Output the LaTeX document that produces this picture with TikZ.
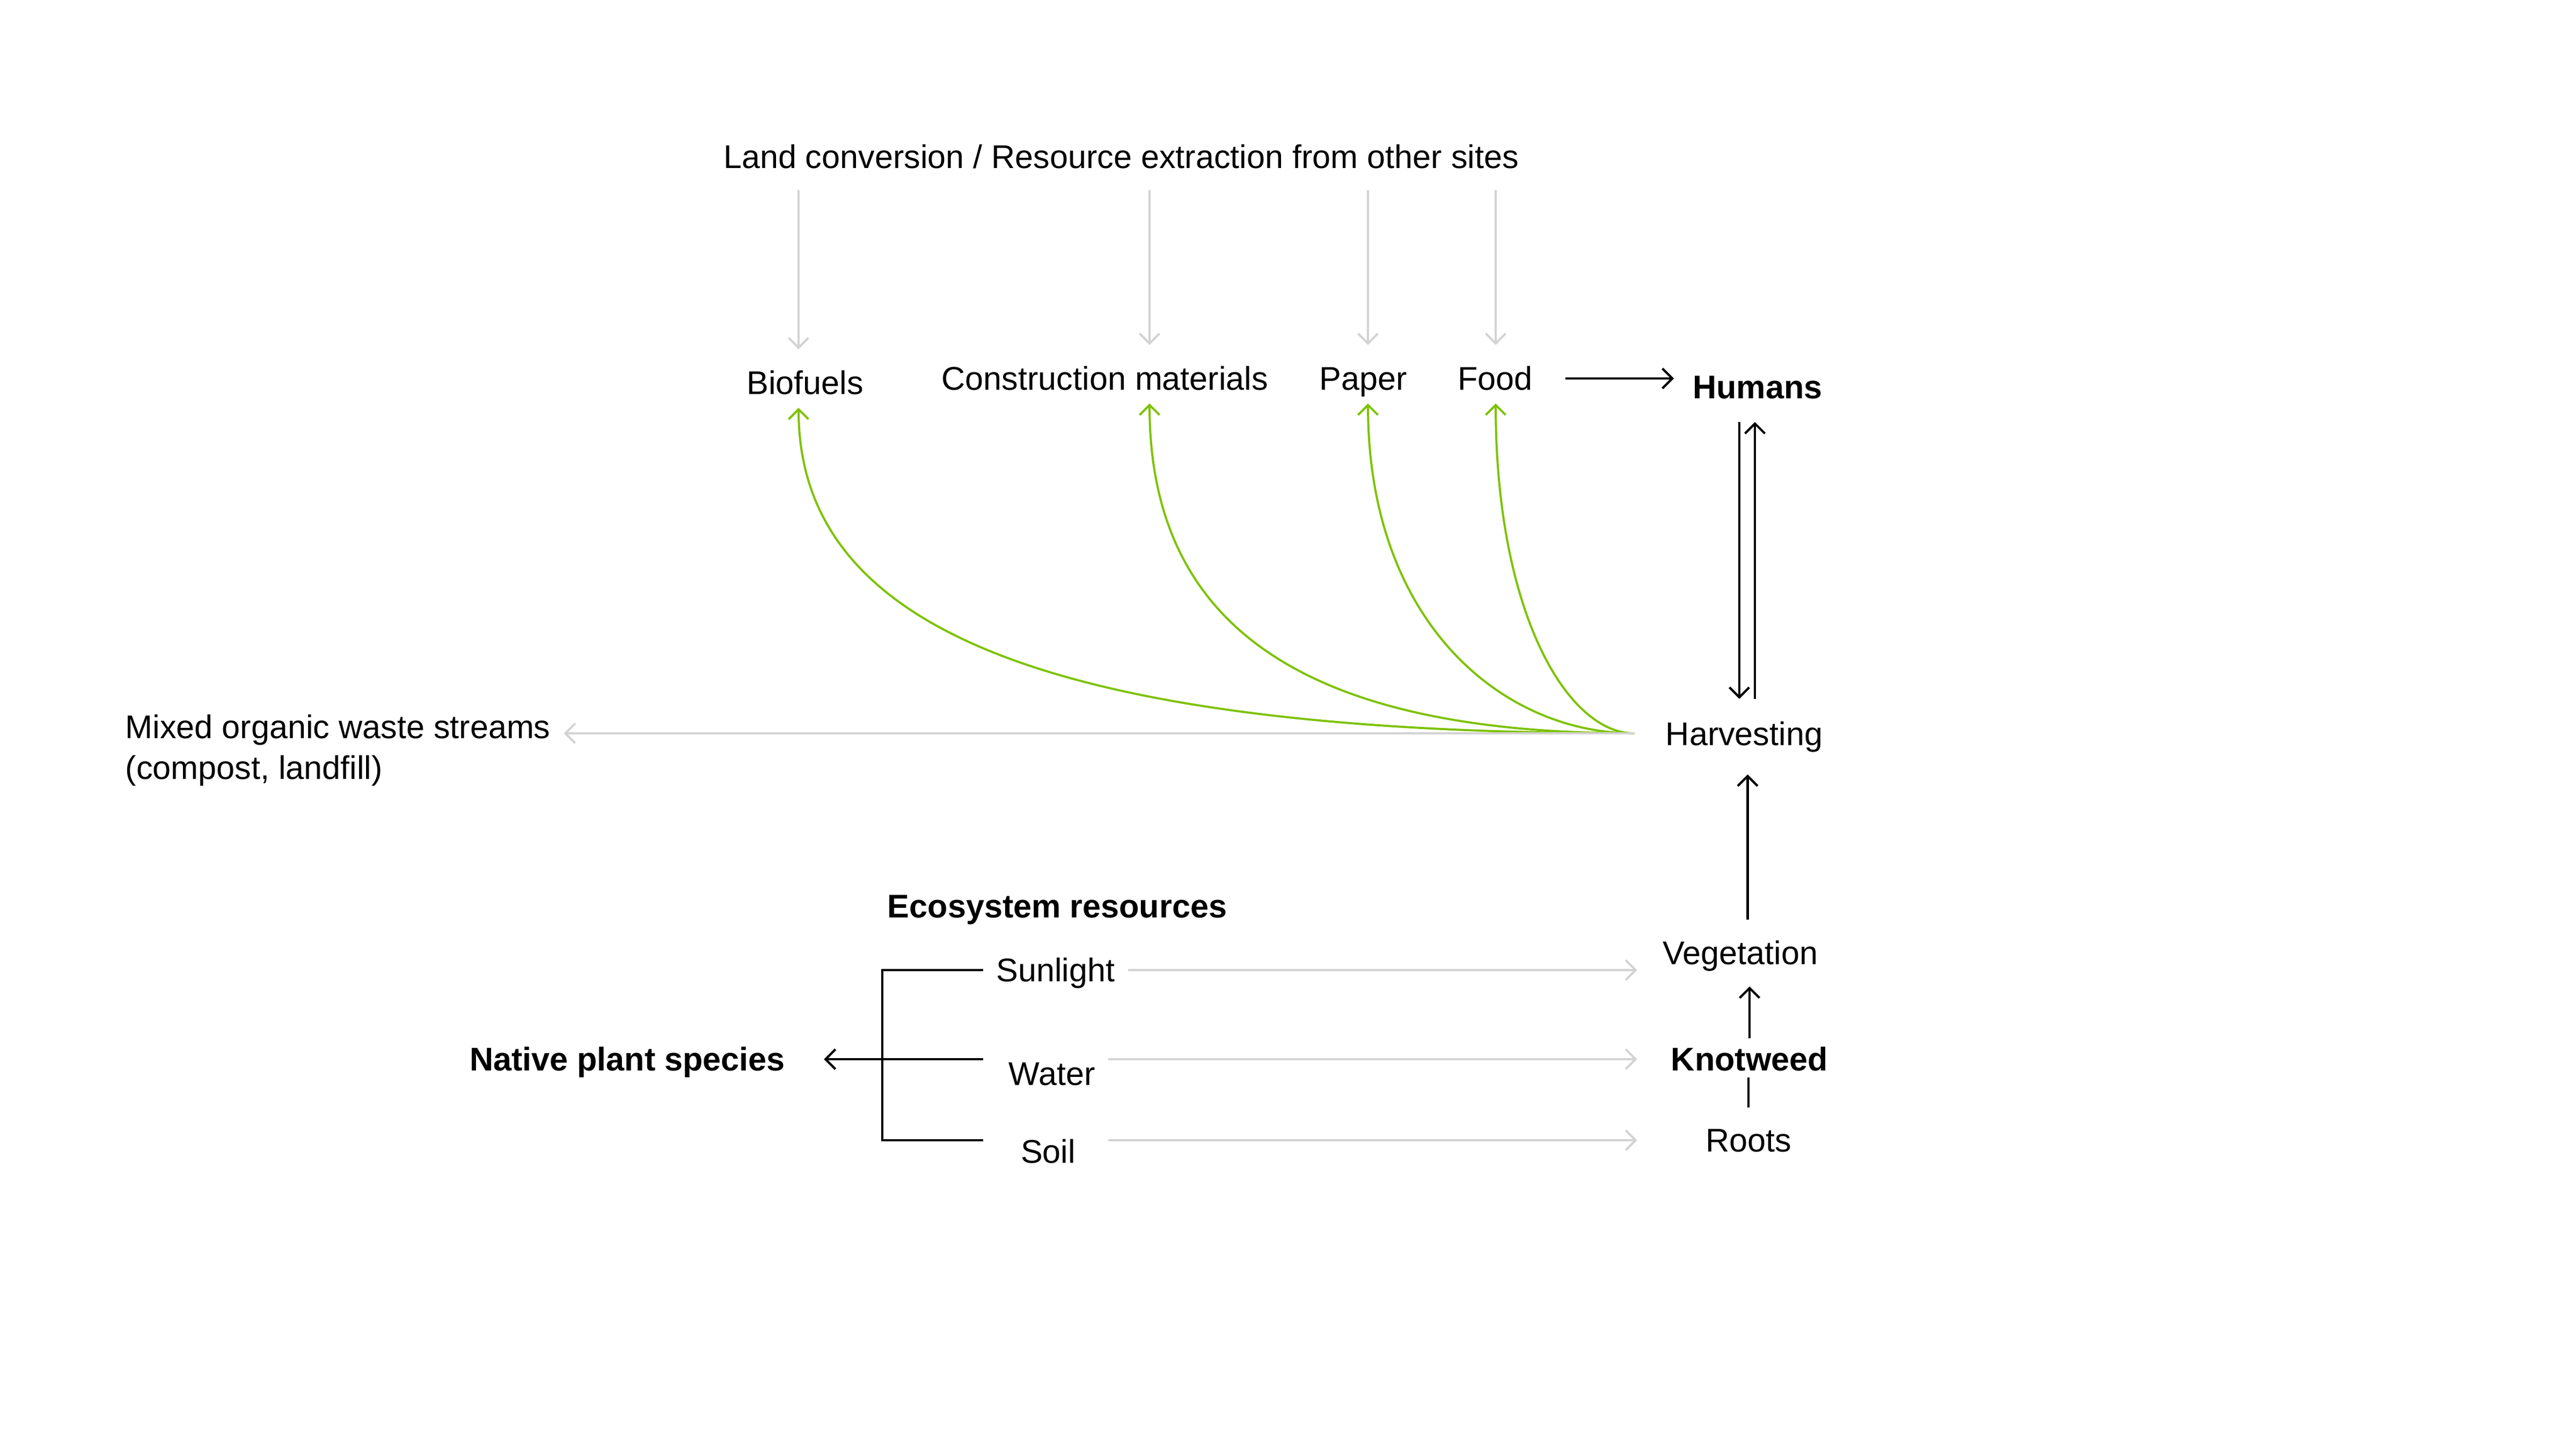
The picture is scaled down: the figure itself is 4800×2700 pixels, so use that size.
\documentclass[tikz,border=0pt]{standalone}
\usepackage{fontspec}
\setmainfont{Liberation Sans}
\usepackage{tikz}
\usetikzlibrary{arrows.meta}

\definecolor{leaf}{HTML}{7DC200}
\definecolor{mist}{HTML}{D3D3D3}

\tikzset{
  txt/.style={font=\fontsize{11.6pt}{14.5pt}\selectfont, inner sep=4.5pt, text height=8.3pt, text depth=0pt},
  bold/.style={txt, font=\fontsize{11.6pt}{14.5pt}\selectfont\bfseries},
  blk/.style={line width=0.8pt, black},
  blkarr/.style={blk, -{Straight Barb[length=3.5pt,width=7pt]}},
  grayarr/.style={line width=0.75pt, mist, -{Straight Barb[length=3.5pt,width=7pt]}},
  greenarr/.style={line width=0.75pt, leaf, -{Straight Barb[length=3.5pt,width=7pt]}}
}

\begin{document}
\begin{tikzpicture}[x=0.066667mm,y=-0.066667mm]
  \fill[white] (0,0) rectangle (4800,2700);
  \useasboundingbox (0,0) rectangle (4800,2700);

  % top row
  \node[txt]  (title)  at (2089,292)  {Land conversion / Resource extraction from other sites};
  \node[txt]  (bio)    at (1500,713)  {Biofuels};
  \node[txt]  (cons)   at (2059,705)  {Construction materials};
  \node[txt]  (paper)  at (2540,705)  {Paper};
  \node[txt]  (food)   at (2786,705)  {Food};
  \node[bold] (humans) at (3275,721)  {Humans};

  % right column
  \node[txt]  (harv)   at (3250,1367) {Harvesting};
  \node[txt]  (veg)    at (3243,1775) {Vegetation};
  \node[bold] (knot)   at (3260,1973) {Knotweed};
  \node[txt]  (roots)  at (3258,2124) {Roots};

  % resources
  \node[bold] (eco)    at (1970,1688) {Ecosystem resources};
  \node[txt]  (sun)    at (1967,1807) {Sunlight};
  \node[txt]  (water)  at (1960,2000) {Water};
  \node[txt]  (soil)   at (1953,2145) {Soil};
  \node[bold] (native) at (1169,1973) {Native plant species};
  \node[font=\fontsize{11.6pt}{14.5pt}\selectfont, inner sep=4.5pt, align=left, anchor=north west]
               (mixed) at (209,1306) {Mixed organic waste streams\\(compost, landfill)};

  \coordinate (hub) at (3045,1366);
  \coordinate (hum-d) at ([xshift=-0.227cm]humans.south);
  \coordinate (hum-u) at ([xshift=-0.033cm]humans.south);
  \foreach \n/\x in {bio/1488, cons/2142, paper/2549, food/2787}
    \coordinate (\n-x) at (\x,0);

  % sources from other sites
  \foreach \n in {bio,cons,paper,food}
    \draw[grayarr, shorten <=3pt, shorten >=3pt] (title.south -| \n-x) -- (\n.north -| \n-x);

  % harvested products
  \foreach \n/\a/\b in {bio/1950/1170, cons/2450/1180, paper/2800/1160, food/2920/1140}
    \draw[greenarr] (hub) .. controls (\a,1366) and (\n-x |- 0,\b) .. (\n.south -| \n-x);
  \draw[grayarr] (hub) -- (hub -| mixed.east);

  \draw[blkarr, shorten <=7pt, shorten >=2pt] (food.east) -- (food.east -| humans.west);
  \draw[blkarr, shorten <=3.5pt, shorten >=3.5pt] (hum-d) -- (hum-d |- harv.north);
  \draw[blkarr, shorten <=3.5pt, shorten >=3.5pt] (hum-u |- harv.north) -- (hum-u);
  \draw[blkarr, shorten <=3pt, shorten >=5.5pt] ([xshift=0.09cm]veg.north) -- ([xshift=0.09cm]veg.north |- harv.south);
  \draw[blkarr, shorten <=-1.5pt, shorten >=3pt] (knot.north) -- (knot.north |- veg.south);
  \draw[blk, shorten <=2.8pt, shorten >=-2.4pt] (roots.north) -- (roots.north |- knot.south);

  % resources to knotweed
  \draw[grayarr, shorten >=4.4pt] (sun.east) -- (sun.east -| veg.west);
  \draw[grayarr, shorten >=4.4pt] (water.east |- knot) -- (veg.west |- knot);
  \draw[grayarr, shorten >=4.4pt] (water.east |- roots) -- (veg.west |- roots);

  \draw[blk] (sun.west) -- ++(-188,0) |- (sun.west |- roots);
  \draw[blkarr, shorten >=9pt] (sun.west |- knot) -- (native.east);
\end{tikzpicture}
\end{document}
